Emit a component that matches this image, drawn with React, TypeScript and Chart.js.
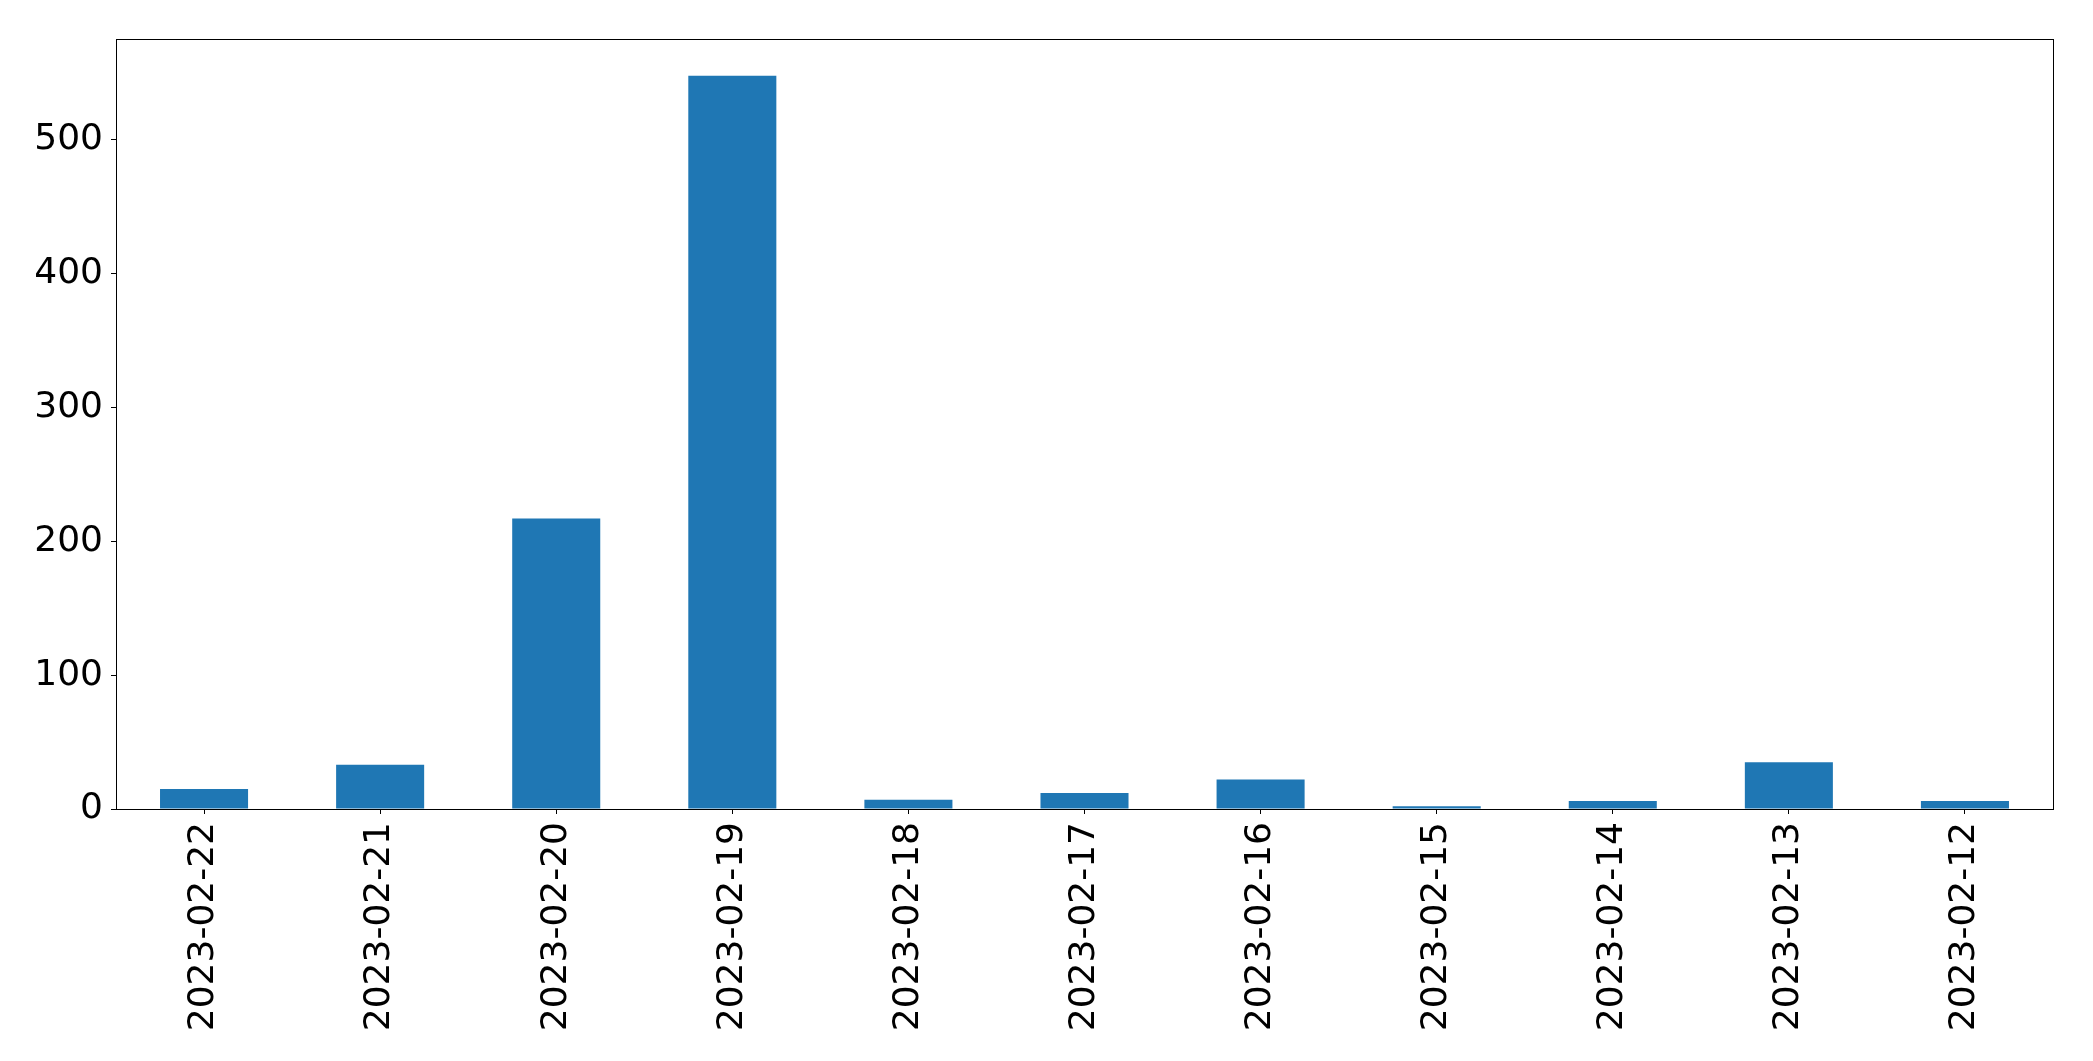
import React, { useEffect, useRef } from "react";
import { Chart, registerables } from "chart.js";

Chart.register(...registerables);

const categories = [
  "2023-02-22",
  "2023-02-21",
  "2023-02-20",
  "2023-02-19",
  "2023-02-18",
  "2023-02-17",
  "2023-02-16",
  "2023-02-15",
  "2023-02-14",
  "2023-02-13",
  "2023-02-12",
];
const counts = [15, 33, 217, 548, 7, 12, 22, 2, 6, 35, 6];
const yTicks = [0, 100, 200, 300, 400, 500];

const W = 2093;
const H = 1061;

const frame = {
  id: "frame",
  afterDraw(chart: any) {
    const { ctx, chartArea } = chart;
    ctx.save();
    ctx.strokeStyle = "#000";
    ctx.lineWidth = 1;
    ctx.strokeRect(
      Math.round(chartArea.left) + 0.5,
      Math.round(chartArea.top) + 0.5,
      Math.round(chartArea.right - chartArea.left),
      Math.round(chartArea.bottom - chartArea.top)
    );
    ctx.restore();
  },
};

export default function App() {
  const ref = useRef<HTMLCanvasElement | null>(null);
  useEffect(() => {
    document.body.style.margin = "0";
    const yMax = Math.max(...counts) * 1.05;
    const chart = new Chart(ref.current as HTMLCanvasElement, {
      type: "bar",
      data: {
        labels: categories,
        datasets: [
          {
            data: counts,
            backgroundColor: "#1f77b4",
            borderWidth: 0,
            categoryPercentage: 1,
            barPercentage: 0.5,
          },
        ],
      },
      options: {
        responsive: false,
        animation: false,
        devicePixelRatio: 1,
        layout: { padding: { top: 39, right: 40, left: 0, bottom: 0 } },
        plugins: { legend: { display: false }, tooltip: { enabled: false } },
        scales: {
          x: {
            offset: true,
            grid: {
              offset: false,
              drawOnChartArea: false,
              drawTicks: true,
              tickLength: 5,
              color: "#000",
            },
            border: { display: true, color: "#000", width: 1 },
            ticks: {
              autoSkip: false,
              minRotation: 90,
              maxRotation: 90,
              padding: 8,
              color: "#000",
              font: { family: "'DejaVu Sans'", size: 36 },
            },
            afterFit: (s: any) => {
              s.height = H - 809;
            },
          },
          y: {
            min: 0,
            max: yMax,
            grid: {
              drawOnChartArea: false,
              drawTicks: true,
              tickLength: 5,
              color: "#000",
            },
            border: { display: true, color: "#000", width: 1 },
            ticks: {
              stepSize: 100,
              padding: 8,
              color: "#000",
              font: { family: "'DejaVu Sans'", size: 36 },
            },
            afterBuildTicks: (s: any) => {
              s.ticks = yTicks.map((v) => ({ value: v }));
            },
            afterFit: (s: any) => {
              s.width = 116;
            },
          },
        },
      },
      plugins: [frame],
    });
    return () => chart.destroy();
  }, []);
  return (
    <div style={{ width: W, height: H, background: "#fff" }}>
      <canvas ref={ref} width={W} height={H} style={{ display: "block" }} />
    </div>
  );
}
